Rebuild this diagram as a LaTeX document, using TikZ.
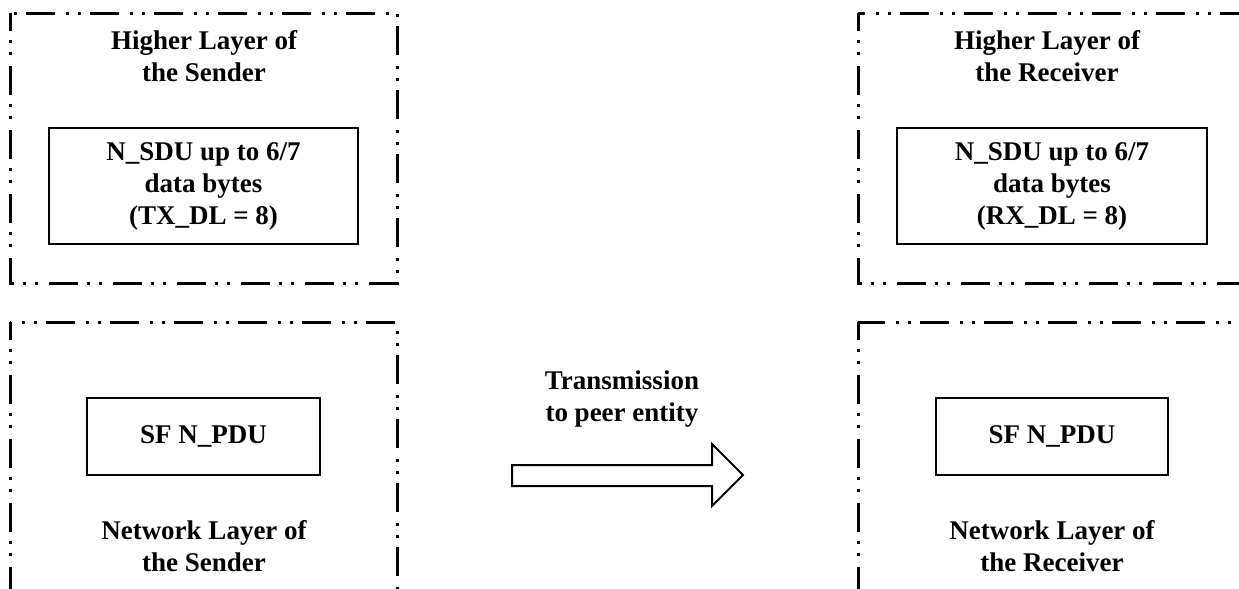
\documentclass[tikz,border=0pt]{standalone}
\usepackage{fontspec}
\setmainfont{Liberation Serif}
\begin{document}
\begin{tikzpicture}[x=0.5pt, y=-0.5pt, every node/.append style={text=black, font=\bfseries\fontsize{13.5}{16}\selectfont, align=center},
	layer/.style={line width=1.5pt, dash pattern=on 14.5pt off 4.5pt on 1.5pt off 4.5pt on 1.5pt off 5.5pt, dash phase=5.5pt},
	pdu/.style={draw, line width=1.4pt, inner sep=0pt}]
	\useasboundingbox (0,0) rectangle (1239,589);
	\clip (0,0) rectangle (1239,589);
	
	\draw[layer] (10,13) rectangle ++(387,270);
	\draw[layer] (10,322) rectangle ++(387,280);
	\node (hlS) at (204,56) {Higher Layer of\\the Sender};
	\node[pdu, minimum width=154.5pt, minimum height=58pt] (sduS) at (203.5,186) {N\_SDU up to 6/7\\data bytes\\(TX\_DL = 8)};
	\node[pdu, minimum width=116.5pt, minimum height=38.5pt] (pduS) at (203.5,436.5) {SF N\_PDU};
	\node (nlS) at (204,546) {Network Layer of\\the Sender};
	
	\draw[layer] (858,13) rectangle ++(400,270);
	\draw[layer] (858,322) rectangle ++(400,280);
	\node (hlR) at (1047,56) {Higher Layer of\\the Receiver};
	\node[pdu, minimum width=155pt, minimum height=58pt] (sduR) at (1052,186) {N\_SDU up to 6/7\\data bytes\\(RX\_DL = 8)};
	\node[pdu, minimum width=116pt, minimum height=38.5pt] (pduR) at (1052,436.5) {SF N\_PDU};
	\node (nlR) at (1052,546) {Network Layer of\\the Receiver};
	
	\node (tx) at (622,399.5) {Transmission\\to peer entity};
	\draw[line width=1pt] (512,465) -- ++(200,0) -- ++(0,-21) -- ++(31,31) -- ++(-31,31) -- ++(0,-20) -- ++(-200,0) -- cycle;
\end{tikzpicture}
\end{document}
